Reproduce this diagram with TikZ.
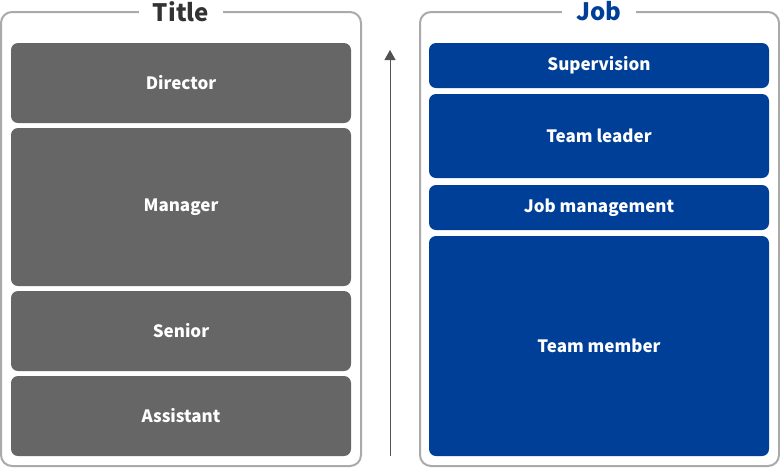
\documentclass[tikz,border=0pt]{standalone}
\usepackage{fontspec}
\setmainfont{Noto Sans CJK KR}
\usetikzlibrary{arrows.meta}
\definecolor{boxgray}{HTML}{666666}
\definecolor{jobblue}{HTML}{003F97}
\definecolor{framegray}{HTML}{AAAAAA}
\definecolor{headgray}{HTML}{333333}
\begin{document}
\begin{tikzpicture}[x=1pt, y=-1pt, font=\bfseries\fontsize{17}{20}\selectfont]
      \tikzset{box/.style={rounded corners=7pt, minimum width=340pt, inner sep=0pt, text=white, align=center},
               frame/.style={draw=framegray, line width=2pt, rounded corners=11pt},
               head/.style={fill=white, inner xsep=14pt, inner ysep=0pt, font=\bfseries\fontsize{24}{28}\selectfont}}
      \useasboundingbox (0,0) rectangle (780,467);
      % frames with headings
      \draw[frame] (1,12) rectangle (361,466);
      \draw[frame] (420,12) rectangle (779,466);
      \node[head, text=headgray] (title) at (181,12) {Title};
      \node[head, text=jobblue] (job) at (599,11) {Job};
      % title column
      \node[box, fill=boxgray, minimum height=80pt] (director) at (181,83) {Director};
      \node[box, fill=boxgray, minimum height=158pt] (manager) at (181,207) {Manager};
      \node[box, fill=boxgray, minimum height=80pt] (senior) at (181,331) {Senior};
      \node[box, fill=boxgray, minimum height=80pt] (assistant) at (181,416) {Assistant};
      % job column
      \node[box, fill=jobblue, minimum height=45pt] (supervision) at (599,65.5) {Supervision};
      \node[box, fill=jobblue, minimum height=84pt] (leader) at (599,136) {Team leader};
      \node[box, fill=jobblue, minimum height=45pt] (jobmgmt) at (599,207.5) {Job management};
      \node[box, fill=jobblue, minimum height=220pt] (member) at (599,346) {Team member};
      % rising arrow between the columns
      \coordinate (low) at (390,456);
      \coordinate (high) at (390,50);
      \draw[-{Triangle[length=10pt,width=11pt]}, draw=headgray!85, fill=headgray!85, line width=1pt] (low) -- (high);
    \end{tikzpicture}
\end{document}
